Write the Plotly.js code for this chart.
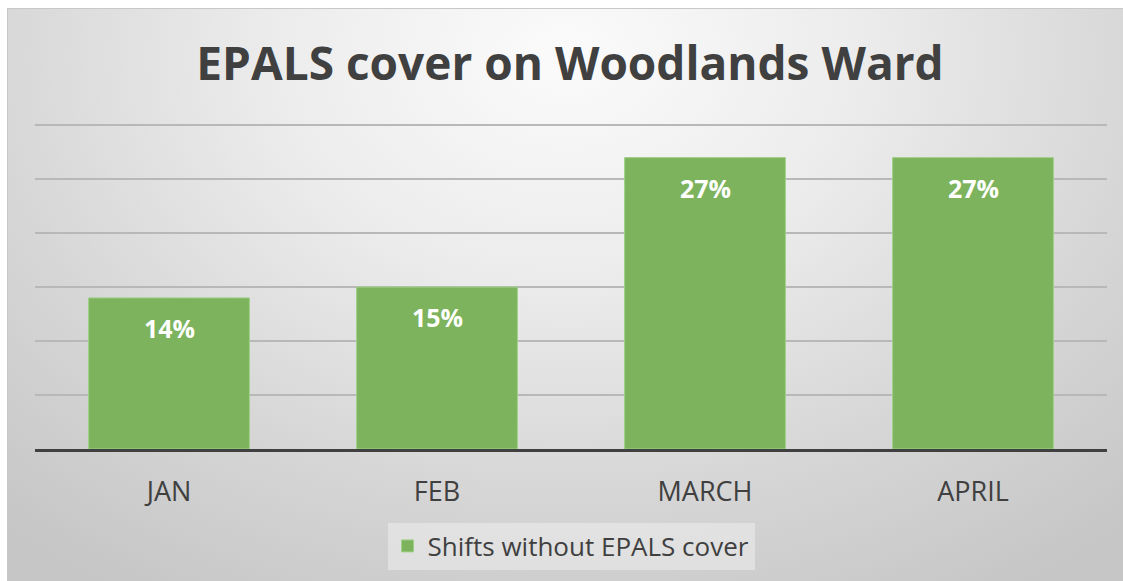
<!DOCTYPE html>
<html>
<head>
<meta charset="utf-8">
<script src="https://cdn.plot.ly/plotly-3.0.1.min.js"></script>
<style>
  html, body { margin: 0; padding: 0; background: #ffffff; width: 1123px; height: 581px; overflow: hidden; }
  #chart {
    position: absolute; left: 7px; top: 8px; width: 1116px; height: 573px;
    border-top: 1px solid #c8c8c8; border-left: 1px solid #c8c8c8; box-sizing: border-box;
    background: radial-gradient(ellipse 75% 110% at 50% 8%, #fbfbfb 0%, #ececec 35%, #d6d6d6 70%, #c6c6c6 100%);
  }
</style>
</head>
<body>
<div id="chart"></div>
<script>
const categories = ["JAN", "FEB", "MARCH", "APRIL"];
const values = [14, 15, 27, 27];
const valueLabels = ["14%", "15%", "27%", "27%"];
const seriesName = "Shifts without EPALS cover";
const chartTitle = "EPALS cover on Woodlands Ward";

const FONT = "Open Sans, sans-serif";

const trace = {
  type: "bar",
  x: categories,
  y: values,
  name: seriesName,
  marker: { color: "#7cb35c", line: { color: "#9fd087", width: 1 } },
  hoverinfo: "skip",
  showlegend: true
};

const annotations = categories.map((c, i) => ({
  x: c, y: values[i], xref: "x", yref: "y",
  text: "<b>" + valueLabels[i] + "</b>",
  showarrow: false, yanchor: "middle", yshift: -30,
  font: { family: FONT, size: 25, color: "#ffffff" }
}));

const layout = {
  width: 1116, height: 573,
  paper_bgcolor: "rgba(0,0,0,0)",
  plot_bgcolor: "rgba(0,0,0,0)",
  margin: { l: 27, r: 17, t: 113, b: 133 },
  title: {
    text: "<b>" + chartTitle + "</b>",
    font: { family: FONT, size: 46, color: "#404040" },
    x: 0.5 + 4 / 1116, xref: "container", xanchor: "center",
    y: 1 - (63 - 8) / 573, yref: "container", yanchor: "middle"
  },
  bargap: 0.4,
  xaxis: {
    type: "category",
    showline: true, linecolor: "#404040", linewidth: 3,
    showgrid: false, ticks: "", ticklabelstandoff: 17,
    tickfont: { family: FONT, size: 27, color: "#404040" },
    fixedrange: true
  },
  yaxis: {
    range: [0, 30.3], dtick: 5, showticklabels: false,
    showgrid: true, gridcolor: "#b8b8b8", gridwidth: 1.5,
    zeroline: false, showline: false, ticks: "", fixedrange: true
  },
  showlegend: true,
  legend: {
    orientation: "h", x: 0.5, xanchor: "center",
    y: (448 - 545) / 327, yanchor: "middle",
    bgcolor: "rgba(255,255,255,0.35)",
    font: { family: FONT, size: 26, color: "#404040" },
    itemclick: false, itemdoubleclick: false
  },
  annotations: annotations
};

Plotly.newPlot("chart", [trace], layout, { displayModeBar: false, staticPlot: true });
</script>
</body>
</html>
